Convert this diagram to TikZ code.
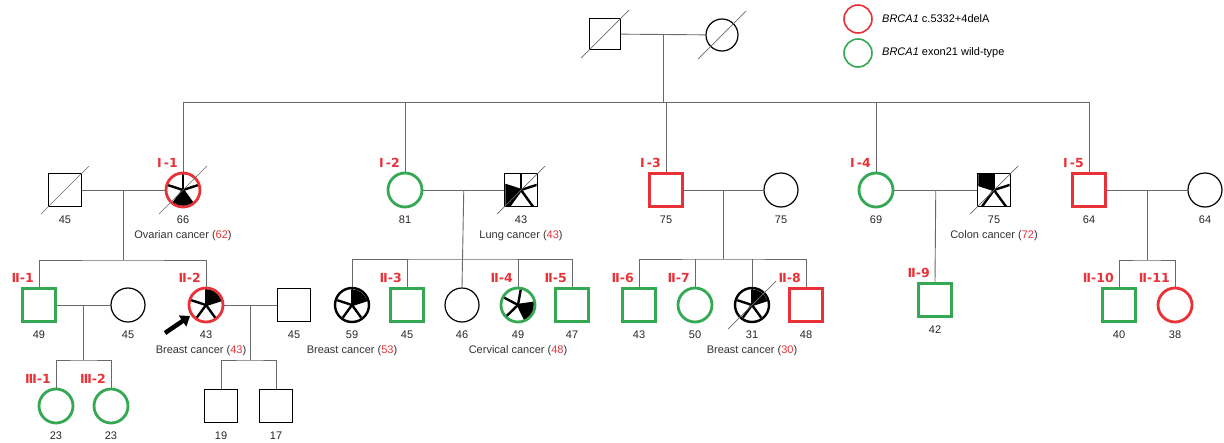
\documentclass[tikz,border=0pt]{standalone}
\usepackage{fontspec}
\setmainfont{Liberation Sans}
\newfontfamily\genfont{DejaVu Sans}
\usetikzlibrary{calc,arrows.meta}
\definecolor{mutred}{RGB}{232,50,56}
\definecolor{wtgreen}{RGB}{52,168,83}
\definecolor{linegray}{RGB}{105,105,105}

% five sectors around a node centre (y axis points down, so sines are negated):
% node, first spoke angle, index of the black sector; call inside a clipped scope
\newcommand\fivesectors[3]{%
  \fill[black] (#1.center)
    -- ($(#1.center)+({40*cos(#2+72*#3)},{-40*sin(#2+72*#3)})$)
    -- ($(#1.center)+({40*cos(#2+72*#3+36)},{-40*sin(#2+72*#3+36)})$)
    -- ($(#1.center)+({40*cos(#2+72*#3+72)},{-40*sin(#2+72*#3+72)})$) -- cycle;
  \foreach \k in {0,...,4}{%
    \draw[spoke] (#1.center) -- ($(#1.center)+({30*cos(#2+72*\k)},{-30*sin(#2+72*\k)})$);}%
}
\newcommand\piecircle[3]{%
  \begin{scope}
    \clip (#1.center) circle[radius=15.6pt];
    \fivesectors{#1}{#2}{#3}
  \end{scope}}
\newcommand\piesquare[3]{%
  \begin{scope}
    \clip ($(#1.center)+(-15.6,-15.6)$) rectangle ($(#1.center)+(15.6,15.6)$);
    \fivesectors{#1}{#2}{#3}
  \end{scope}}
% deceased stroke, lower left to upper right
\newcommand\deathmark[1]{\draw[dead] ($(#1.center)+(-24,24)$) -- ($(#1.center)+(24,-24)$);}
% age, diagnosis and generation labels
\newcommand\age[2]{\node[num] (#1-age) at ($(#1.center)+(0,30)$) {#2};}
\newcommand\dxtext[2]{\node[dx] (#1-dx) at ($(#1.center)+(0,46)$) {#2};}
\newcommand\genlab[2]{\node[gen] (#1-gen) at ($(#1.center)+(-5,-27)$) {#2};}
\newcommand\rd[1]{{\color{mutred}#1}}

\begin{document}
\begin{tikzpicture}[x=1pt,y=-1pt,
  every node/.style={font=\fontsize{11}{13}\selectfont},
  sq/.style={draw, rectangle, minimum size=32.5pt, inner sep=0pt},
  ci/.style={draw, circle, minimum size=34pt, inner sep=0pt},
  plain/.style={line width=1.2pt, draw=black},
  mut/.style={line width=2.8pt, draw=mutred},
  wt/.style={line width=2.8pt, draw=wtgreen},
  aff/.style={line width=2.4pt, draw=black},
  link/.style={draw=linegray, line width=0.9pt},
  dead/.style={draw=linegray, line width=0.7pt},
  spoke/.style={line width=2.4pt, black},
  num/.style={text=black!85, inner sep=0pt},
  dx/.style={text=black!80, inner sep=0pt},
  gen/.style={text=mutred, font=\genfont\bfseries\fontsize{12.5}{14}\selectfont, inner sep=0pt, anchor=east},
]
\useasboundingbox[fill=white] (0,0) rectangle (1224,442);

% ---------- legend ----------
\node[ci, minimum size=28pt, line width=1.6pt, draw=mutred] (lg1) at (858,19) {};
\node[anchor=west, inner sep=0pt] (lt1) at (882,19) {\textit{BRCA1} c.5332+4delA};
\node[ci, minimum size=28pt, line width=1.6pt, draw=wtgreen] (lg2) at (858,53) {};
\node[anchor=west, inner sep=0pt] (lt2) at (882,53) {\textit{BRCA1} exon21 wild-type};

% ---------- founders ----------
\node[sq, plain, minimum size=31pt] (gf) at (605,34) {};
\node[ci, plain, minimum size=32pt] (gm) at (722,35) {};
\deathmark{gf}\deathmark{gm}

% ---------- generation I and spouses ----------
\node[sq, plain] (h1) at (65,190) {};
\node[ci, mut] (i1) at (183,190) {};
\node[ci, wt] (i2) at (405,190) {};
\node[sq, plain] (s2) at (521,190) {};
\node[sq, mut] (i3) at (666,190) {};
\node[ci, plain] (s3) at (781,190) {};
\node[ci, wt] (i4) at (876,190) {};
\node[sq, plain] (s4) at (994,190) {};
\node[sq, mut] (i5) at (1089,190) {};
\node[ci, plain] (s5) at (1205,190) {};

\piecircle{i1}{90}{2}
\piesquare{s2}{90}{1}
\piesquare{s4}{90}{0}
\deathmark{h1}\deathmark{i1}\deathmark{s2}\deathmark{s4}

% ---------- generation II and spouses ----------
\node[sq, wt] (ii1) at (39,305) {};
\node[ci, plain] (w1) at (128,305) {};
\node[ci, mut] (ii2) at (206,305) {};
\node[sq, plain] (h2) at (294,305) {};
\node[ci, aff] (b59) at (352,305) {};
\node[sq, wt] (ii3) at (407,305) {};
\node[ci, plain] (c46) at (462,305) {};
\node[ci, wt] (ii4) at (518,305) {};
\node[sq, wt] (ii5) at (572,305) {};
\node[sq, wt] (ii6) at (639,305) {};
\node[ci, wt] (ii7) at (695,305) {};
\node[ci, aff] (b31) at (752,305) {};
\node[sq, mut] (ii8) at (806,305) {};
\node[sq, wt] (ii9) at (935,300) {};
\node[sq, wt] (ii10) at (1119,305) {};
\node[ci, mut] (ii11) at (1175,305) {};

\piecircle{ii2}{90}{4}
\piecircle{b59}{90}{4}
\piecircle{ii4}{80}{3}
\piecircle{b31}{90}{4}
\deathmark{b31}

% ---------- generation III ----------
\node[ci, wt] (iii1) at (56,406) {};
\node[ci, wt] (iii2) at (111,406) {};
\node[sq, plain] (c19) at (221,406) {};
\node[sq, plain] (c17) at (276,406) {};

% ---------- connectors ----------
% founders
\draw[link] (gf) -- (gm);
\coordinate (m0) at ($(gf.east)!0.5!(gm.west)$);
\path (m0) ++(0,68) coordinate (bar0);
\draw[link] (m0) -- (bar0);
\draw[link] (i1.north) |- (bar0) -| (i5.north);
\draw[link] (i2.north) -- (i2.north |- bar0);
\draw[link] (i3.north) -- (i3.north |- bar0);
\draw[link] (i4.north) -- (i4.north |- bar0);

% family of I-1
\draw[link] (h1) -- (i1);
\coordinate (m1) at ($(h1.east)!0.5!(i1.west)$);
\path (m1) ++(0,70) coordinate (bar1);
\draw[link] (m1) -- (bar1);
\draw[link] (ii1.north) |- (bar1) -| (ii2.north);

% family of I-2
\draw[link] (i2) -- (s2);
\coordinate (m2) at ($(i2.east)!0.5!(s2.west)$);
\path (m2) ++(0,69) coordinate (bar2);
\draw[link] (m2) -- (c46.north);
\draw[link] (b59.north) |- (bar2) -| (ii5.north);
\draw[link] (ii3.north) -- (ii3.north |- bar2);
\draw[link] (ii4.north) -- (ii4.north |- bar2);

% family of I-3
\draw[link] (i3) -- (s3);
\coordinate (m3) at ($(i3.east)!0.5!(s3.west)$);
\path (m3) ++(0,69) coordinate (bar3);
\draw[link] (m3) -- (bar3);
\draw[link] (ii6.north) |- (bar3) -| (ii8.north);
\draw[link] (ii7.north) -- (ii7.north |- bar3);
\draw[link] (b31.north) -- (b31.north |- bar3);

% family of I-4
\draw[link] (i4) -- (s4);
\coordinate (m4) at ($(i4.east)!0.5!(s4.west)$);
\draw[link] (m4) -- (ii9.north);

% family of I-5
\draw[link] (i5) -- (s5);
\coordinate (m5) at ($(i5.east)!0.5!(s5.west)$);
\path (m5) ++(0,70) coordinate (bar5);
\draw[link] (m5) -- (bar5);
\draw[link] (ii10.north) |- (bar5) -| (ii11.north);

% family of II-1
\draw[link] (ii1) -- (w1);
\coordinate (m6) at ($(ii1.east)!0.5!(w1.west)$);
\path (m6) ++(0,55) coordinate (bar6);
\draw[link] (m6) -- (bar6);
\draw[link] (iii1.north) |- (bar6) -| (iii2.north);

% family of II-2
\draw[link] (ii2) -- (h2);
\coordinate (m7) at ($(ii2.east)!0.5!(h2.west)$);
\path (m7) ++(0,55) coordinate (bar7);
\draw[link] (m7) -- (bar7);
\draw[link] (c19.north) |- (bar7) -| (c17.north);

% proband arrow
\coordinate (arS) at (165,333);
\coordinate (arE) at (190,316);
\draw[line width=4.5pt, -{Triangle[length=9pt,width=13pt]}] (arS) -- (arE);

% ---------- labels ----------
\genlab{i1}{Ⅰ\,-1}\genlab{i2}{Ⅰ\,-2}\genlab{i3}{Ⅰ\,-3}\genlab{i4}{Ⅰ\,-4}\genlab{i5}{Ⅰ\,-5}
\genlab{ii1}{Ⅱ-1}\genlab{ii2}{Ⅱ-2}\genlab{ii3}{Ⅱ-3}\genlab{ii4}{Ⅱ-4}\genlab{ii5}{Ⅱ-5}
\genlab{ii6}{Ⅱ-6}\genlab{ii7}{Ⅱ-7}\genlab{ii8}{Ⅱ-8}\genlab{ii9}{Ⅱ-9}
\genlab{ii10}{Ⅱ-10}\genlab{ii11}{Ⅱ-11}
\genlab{iii1}{Ⅲ-1}\genlab{iii2}{Ⅲ-2}

\age{h1}{45}\age{i1}{66}\age{i2}{81}\age{s2}{43}\age{i3}{75}\age{s3}{75}
\age{i4}{69}\age{s4}{75}\age{i5}{64}\age{s5}{64}
\age{ii1}{49}\age{w1}{45}\age{ii2}{43}\age{h2}{45}\age{b59}{59}\age{ii3}{45}
\age{c46}{46}\age{ii4}{49}\age{ii5}{47}\age{ii6}{43}\age{ii7}{50}\age{b31}{31}
\age{ii8}{48}\age{ii9}{42}\age{ii10}{40}\age{ii11}{38}
\age{iii1}{23}\age{iii2}{23}\age{c19}{19}\age{c17}{17}

\dxtext{i1}{Ovarian cancer (\rd{62})}
\dxtext{s2}{Lung cancer (\rd{43})}
\dxtext{s4}{Colon cancer (\rd{72})}
\node[dx] (ii2-dx) at ($(ii2.center)+(-5,46)$) {Breast cancer (\rd{43})};
\dxtext{b59}{Breast cancer (\rd{53})}
\dxtext{ii4}{Cervical cancer (\rd{48})}
\dxtext{b31}{Breast cancer (\rd{30})}
\end{tikzpicture}
\end{document}
